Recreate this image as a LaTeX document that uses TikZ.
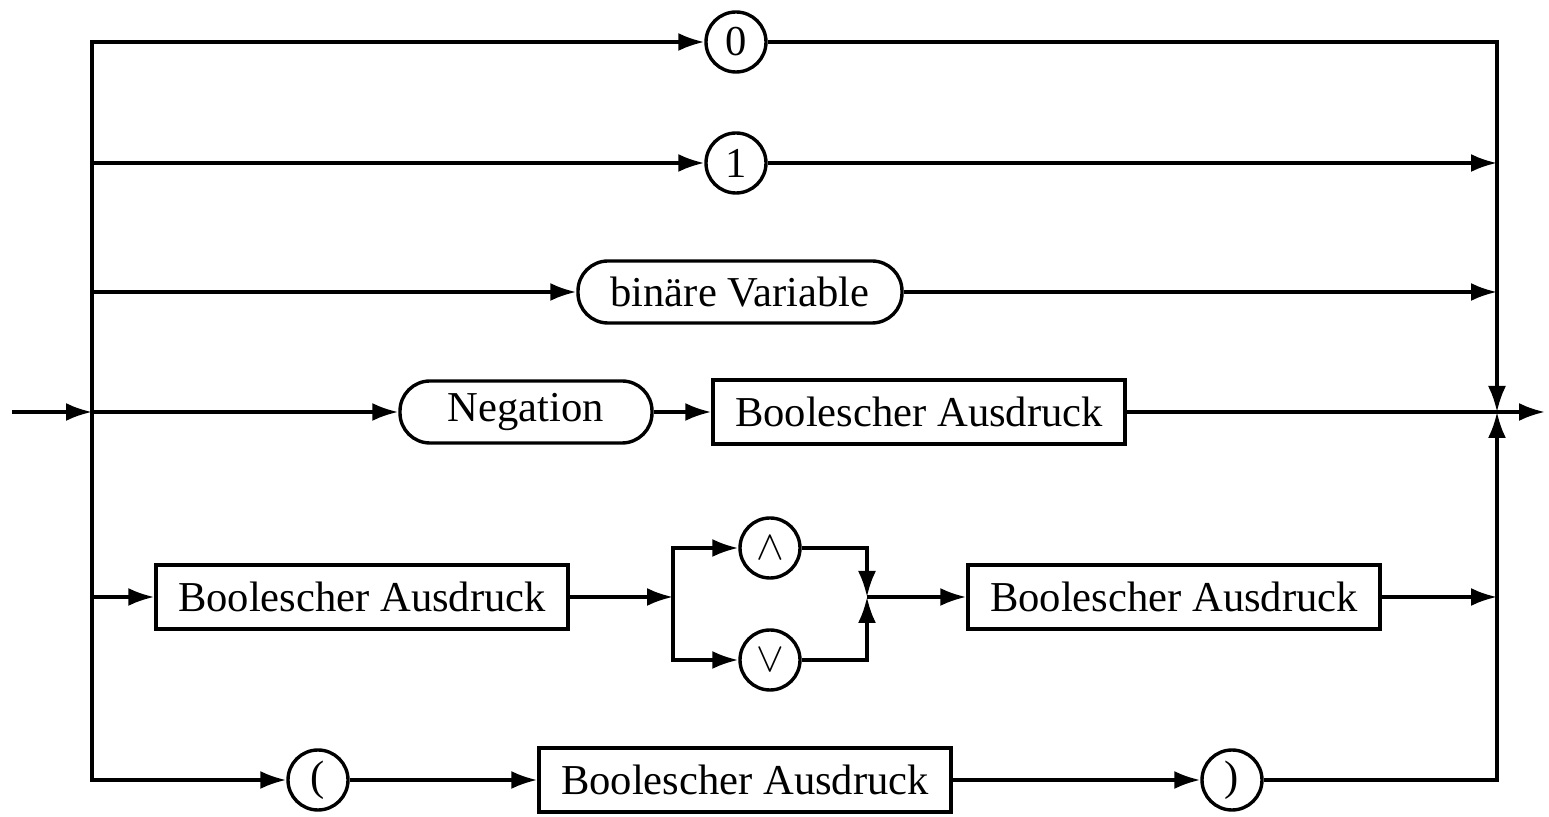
\documentclass[tikz,border=0pt]{standalone}
\usepackage{fontspec}
\setmainfont{Liberation Serif}
\usetikzlibrary{arrows.meta}
\tikzset{
  term/.style={draw, circle, minimum size=30pt, inner sep=0pt},
  token/.style={draw, rectangle, rounded corners=15pt, minimum height=31pt},
  nonterm/.style={draw, rectangle, minimum width=206pt, minimum height=32pt},
}
\begin{document}
\begin{tikzpicture}[x=0.5pt, y=-0.5pt, line width=1.7pt,
  >={Latex[length=13pt,width=9pt]}, font=\fontsize{21.3}{25}\selectfont]
\useasboundingbox (0,0) rectangle (1549,817);
\node[term] (zero) at (736,42) {0};
\node[term] (one) at (736,163) {1};
\node[token, minimum width=162pt] (var) at (740,292) {binäre Variable};
\node[token, minimum width=126pt] (neg) at (526,412) {Negation};
\node[nonterm] (b1) at (919,412) {Boolescher Ausdruck};
\node[nonterm] (b2) at (362,597) {Boolescher Ausdruck};
\node[term] (and) at (770,548) {$\wedge$};
\node[term] (or) at (770,660) {$\vee$};
\node[nonterm] (b3) at (1174,597) {Boolescher Ausdruck};
\node[term] (lp) at (318,780) {(};
\node[nonterm] (b4) at (745,780) {Boolescher Ausdruck};
\node[term] (rp) at (1232,780) {)};
\coordinate (in) at (12,412);
\coordinate (out) at (1545,412);
\coordinate (split) at (673,597);
\coordinate (join) at (867,597);
\foreach \n/\y in {0/42,1/163,2/292,3/412,4/597,5/780} {
  \coordinate (l\n) at (92,\y);
  \coordinate (r\n) at (1497,\y);
}
% left bus
\draw[->] (l5) |- (zero);
\draw[->] (l0) |- (lp);
\draw[->] (in) -- (l3);
\path [->]
    (l1) edge (one)
    (one) edge (r1)
    (l2) edge (var)
    (var) edge (r2)
    (l3) edge (neg)
    (neg) edge (b1)
    (l4) edge (b2)
    (b2) edge (split)
    (join) edge (b3)
    (b3) edge (r4)
    (lp) edge (b4)
    (b4) edge (rp);
% right bus
\draw[->] (zero) -| (r3);
\draw[->] (rp) -| (r3);
\draw (b1) -- (r3);
\draw[->] (r3) -- (out);
% and / or
\draw[->] (split) |- (and);
\draw[->] (split) |- (or);
\draw[->] (and) -| (join);
\draw[->] (or) -| (join);
\end{tikzpicture}
\end{document}
